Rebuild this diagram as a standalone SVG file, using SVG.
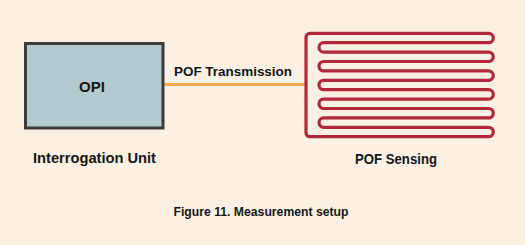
<svg xmlns="http://www.w3.org/2000/svg" width="525" height="245" viewBox="0 0 525 245">
<style>
.lbl{font-family:"Liberation Sans","DejaVu Sans",Arial,sans-serif;font-weight:bold;fill:#161616;text-anchor:middle}
</style>
<rect x="0" y="0" width="525" height="245" fill="#faf1e4"/>
<g id="connectors">
<line x1="164.5" y1="84.5" x2="305" y2="84.5" stroke="#f4ab49" stroke-width="3"/>
<text class="lbl" x="233" y="76" font-size="13.5" textLength="118" lengthAdjust="spacingAndGlyphs">POF Transmission</text>
</g>
<g id="opi">
<rect x="25.5" y="43.5" width="137.5" height="84.5" fill="#b4c9cd" stroke="#3c3b38" stroke-width="3"/>
<text class="lbl" x="92" y="91.7" font-size="15">OPI</text>
<text class="lbl" x="94.5" y="163.3" font-size="14" textLength="123" lengthAdjust="spacingAndGlyphs">Interrogation Unit</text>
</g>
<g id="pof-sensing">
<path d="M310 33.3H488.6A4.7 4.7 0 0 1 488.6 42.7H323.7A4.7 4.7 0 0 0 323.7 52.1H488.6A4.7 4.7 0 0 1 488.6 61.5H323.7A4.7 4.7 0 0 0 323.7 70.9H488.6A4.7 4.7 0 0 1 488.6 80.3H323.7A4.7 4.7 0 0 0 323.7 89.7H488.6A4.7 4.7 0 0 1 488.6 99.1H323.7A4.7 4.7 0 0 0 323.7 108.5H488.6A4.7 4.7 0 0 1 488.6 117.9H323.7A4.7 4.7 0 0 0 323.7 127.3H488.6A4.7 4.7 0 0 1 488.6 136.7H310A4 4 0 0 1 306 132.7V37.3A4 4 0 0 1 310 33.3Z" fill="none" stroke="#b0283a" stroke-width="3.2"/>
<text class="lbl" x="396" y="164" font-size="14" textLength="82" lengthAdjust="spacingAndGlyphs">POF Sensing</text>
</g>
<g id="caption">
<text class="lbl" x="261" y="216" font-size="13.5" textLength="175" lengthAdjust="spacingAndGlyphs">Figure 11. Measurement setup</text>
</g>
</svg>
